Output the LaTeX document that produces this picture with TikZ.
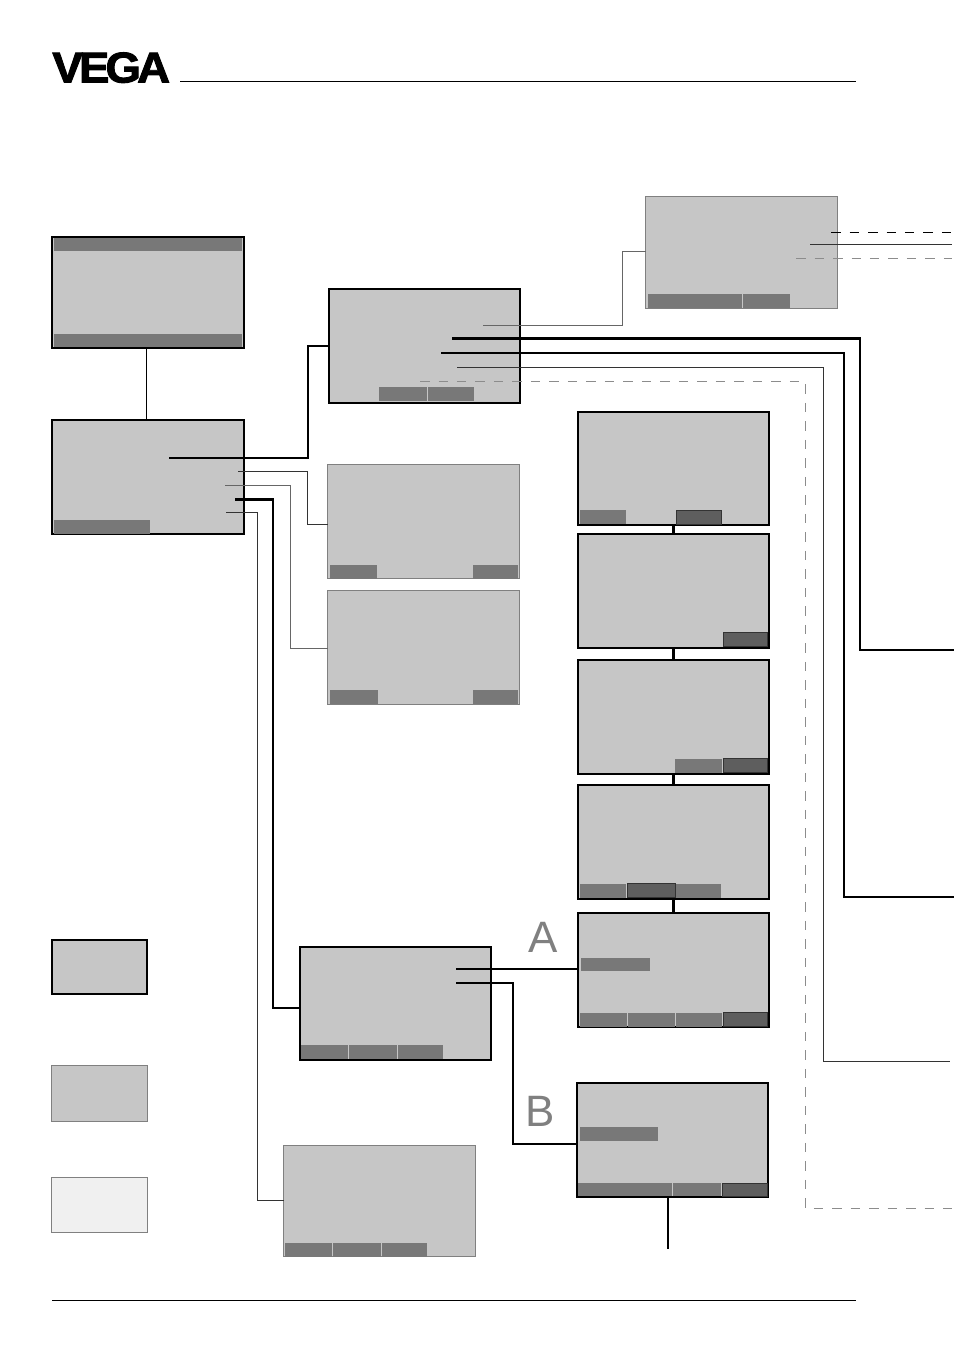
\documentclass[tikz,border=0pt]{standalone}
\usepackage{fontspec}
\usetikzlibrary{calc}
\newfontfamily\logofont[LetterSpace=-9,FakeStretch=1.06,FakeBold=2.2]{Liberation Sans}
\newfontfamily\markfont{Liberation Sans}
\definecolor{screengrey}{HTML}{C6C6C6}
\definecolor{keygrey}{HTML}{787878}
\definecolor{keydark}{HTML}{5E5E5E}
\definecolor{rimgrey}{HTML}{808080}
\definecolor{lightpane}{HTML}{F0F0F0}
\def\pxu{0.02cm}
\tikzset{
  screenbold/.style={draw=black, line width=1.6pt, fill=screengrey, anchor=north west, inner sep=0, outer sep=0, minimum width=#1*\pxu, minimum height=114*\pxu},
  screenbold/.default=191,
  screenthin/.style={draw=rimgrey, line width=0.55pt, fill=screengrey, anchor=north west, inner sep=0, outer sep=0, minimum width=#1*\pxu, minimum height=114*\pxu},
  screenthin/.default=192,
  softkey/.style={fill=keygrey, anchor=north west, inner sep=0, outer sep=0, minimum width=#1*\pxu, minimum height=14*\pxu},
  activekey/.style={fill=keydark, draw=black!80, line width=0.5pt, anchor=north west, inner sep=0, outer sep=0, minimum width=#1*\pxu, minimum height=14*\pxu},
  heavyline/.style={line width=1.4pt, black},
  fineline/.style={line width=0.5pt, black!80},
  paleline/.style={line width=0.5pt, black!60},
  dashline/.style={line width=0.55pt, black!45, dash pattern=on 0.19cm off 0.18cm},
}
\begin{document}
\begin{tikzpicture}[x=0.02cm, y=-0.02cm, line cap=butt, line join=miter]
\useasboundingbox (0,0) rectangle (954,1351);

% header and footer
\node[anchor=base west, inner sep=0, font=\logofont\bfseries\fontsize{24.5}{25}\selectfont] (logo) at (52,82.5) {VEGA};
\coordinate (headL) at (180,81);
\coordinate (headR) at (856,81);
\coordinate (footL) at (52,1300);
\coordinate (footR) at (856,1300);
\draw[line width=0.55pt] (headL) -- (headR);
\draw[line width=0.55pt] (footL) -- (footR);

% left column
\node[screenbold=192, minimum height=111*\pxu] (startS) at (52,237) {};
\node[softkey=188, minimum height=13*\pxu] (startTop) at (54,238) {};
\node[softkey=188, minimum height=13*\pxu] (startBot) at (54,334) {};
\node[screenbold=192] (mainS) at (52,420) {};
\node[softkey=96] (mainK) at (54,519.5) {};

% middle column
\node[screenbold] (paramS) at (329,289) {};
\node[softkey=48] (paramK1) at (379,387) {};
\node[softkey=46] (paramK2) at (428,387) {};
\node[screenthin, minimum height=112*\pxu] (infoS) at (645.5,196.5) {};
\node[softkey=94] (infoK1) at (648,294) {};
\node[softkey=47] (infoK2) at (743,294) {};
\node[screenthin] (langS) at (327.5,464.5) {};
\node[softkey=47] (langK1) at (330,565) {};
\node[softkey=45] (langK2) at (473,565) {};
\node[screenthin] (unitS) at (327.5,590.5) {};
\node[softkey=48] (unitK1) at (330,690) {};
\node[softkey=45] (unitK2) at (473,690) {};
\node[screenbold, minimum height=113*\pxu] (setupS) at (300,947) {};
\node[softkey=47] (setupK1) at (301,1045) {};
\node[softkey=48] (setupK2) at (349,1045) {};
\node[softkey=45] (setupK3) at (398,1045) {};
\node[screenthin, minimum height=111*\pxu] (diagS) at (283.5,1145.5) {};
\node[softkey=47] (diagK1) at (285,1243) {};
\node[softkey=48] (diagK2) at (333,1243) {};
\node[softkey=45] (diagK3) at (382,1243) {};

% right column
\node[screenbold, minimum height=113*\pxu] (stepA) at (578,412) {};
\node[softkey=46] (stepAk1) at (580,510) {};
\node[activekey=45] (stepAk2) at (676,510) {};
\node[screenbold] (stepB) at (578,534) {};
\node[activekey=44] (stepBk) at (723,632) {};
\node[screenbold] (stepC) at (578,660) {};
\node[softkey=47] (stepCk1) at (675,759) {};
\node[activekey=44] (stepCk2) at (723,758) {};
\node[screenbold] (stepD) at (578,785) {};
\node[softkey=46] (stepDk1) at (580,884) {};
\node[activekey=48] (stepDk2) at (627,883) {};
\node[softkey=45] (stepDk3) at (676,884) {};
\node[screenbold] (stepE) at (578,913) {};
\node[softkey=69, minimum height=13*\pxu] (stepEbar) at (581,958) {};
\node[softkey=47] (stepEk1) at (580,1013) {};
\node[softkey=47] (stepEk2) at (628,1013) {};
\node[softkey=46] (stepEk3) at (676,1013) {};
\node[activekey=44] (stepEk4) at (723,1012) {};
\node[screenbold] (stepF) at (577,1083) {};
\node[softkey=78] (stepFbar) at (580,1127) {};
\node[softkey=94, minimum height=13*\pxu] (stepFk1) at (578,1183) {};
\node[softkey=48, minimum height=13*\pxu] (stepFk2) at (673,1183) {};
\node[activekey=45, minimum height=13*\pxu] (stepFk3) at (722,1183) {};

% legend
\node[screenbold=95, minimum height=54*\pxu] (legendA) at (52,940) {};
\node[screenthin=95.5, minimum height=56*\pxu] (legendB) at (51.5,1065.5) {};
\node[screenthin=95.5, minimum height=55*\pxu, fill=lightpane] (legendC) at (51.5,1177.5) {};

% letters
\node[text=rimgrey, font=\markfont\fontsize{25}{25}\selectfont, inner sep=0] (markA) at (543,937) {A};
\node[text=rimgrey, font=\markfont\fontsize{25}{25}\selectfont, inner sep=0] (markB) at (540,1111) {B};

% free ends
\coordinate (mainA) at (169,458);
\coordinate (mainB) at (238,471);
\coordinate (mainC) at (225,485);
\coordinate (mainD) at (235,499.5);
\coordinate (mainE) at (226,512);
\coordinate (paramA) at (483,325);
\coordinate (paramB) at (452,338.5);
\coordinate (paramC) at (441,353);
\coordinate (paramD) at (457,367);
\coordinate (paramE) at (420,381);
\coordinate (infoA) at (831,232);
\coordinate (infoB) at (810,244);
\coordinate (infoC) at (796,258);
\coordinate (setupA) at (456,969);
\coordinate (setupB) at (456,983);
\coordinate (exitA) at (952,232);
\coordinate (exitB) at (952,244);
\coordinate (exitC) at (952,258);
\coordinate (exitD) at (954,650);
\coordinate (exitE) at (954,897);
\coordinate (exitF) at (950,1061);
\coordinate (exitG) at (952,1208);
\coordinate (exitH) at (668,1249);

% connectors
\draw[fineline, black] ($(startS.south)+(-1.5,0)$) -- ($(mainS.north)+(-1.5,0)$);
\draw[heavyline] (mainA) -- ++(139,0) |- (paramS.west);
\draw[fineline] (mainB) -- ++(69,0) |- ($(langS.west)+(0,2.5)$);
\draw[paleline] (mainC) -- ++(65,0) |- ($(unitS.west)+(0,0.5)$);
\draw[heavyline] (mainD) -- ++(38,0) |- ($(setupS.west)+(0,4.5)$);
\draw[fineline] (mainE) -- ++(31,0) |- ($(diagS.west)+(0,-1)$);
\draw[paleline] (paramA) -- ++(139,0) |- ($(infoS.west)+(0,-1.5)$);
\draw[heavyline] (paramB) -- ++(408,0) |- (exitD);
\draw[heavyline] (paramC) -- ++(403,0) |- (exitE);
\draw[fineline] (paramD) -- ++(366,0) |- (exitF);
\draw[dashline] (paramE) -- ++(385,0) |- (exitG);
\draw[line width=0.55pt, dash pattern=on 0.19cm off 0.18cm] (infoA) -- (exitA);
\draw[fineline] (infoB) -- (exitB);
\draw[dashline] (infoC) -- (exitC);
\draw[heavyline] (stepA.south) -- (stepB.north);
\draw[heavyline] (stepB.south) -- (stepC.north);
\draw[heavyline] (stepC.south) -- (stepD.north);
\draw[heavyline] (stepD.south) -- (stepE.north);
\draw[heavyline] (setupA) -- (setupA -| stepE.west);
\draw[heavyline] (setupB) -- ++(57,0) |- ($(stepF.west)+(0,4)$);
\draw[heavyline] (stepF.south -| exitH) -- (exitH);
\end{tikzpicture}
\end{document}
